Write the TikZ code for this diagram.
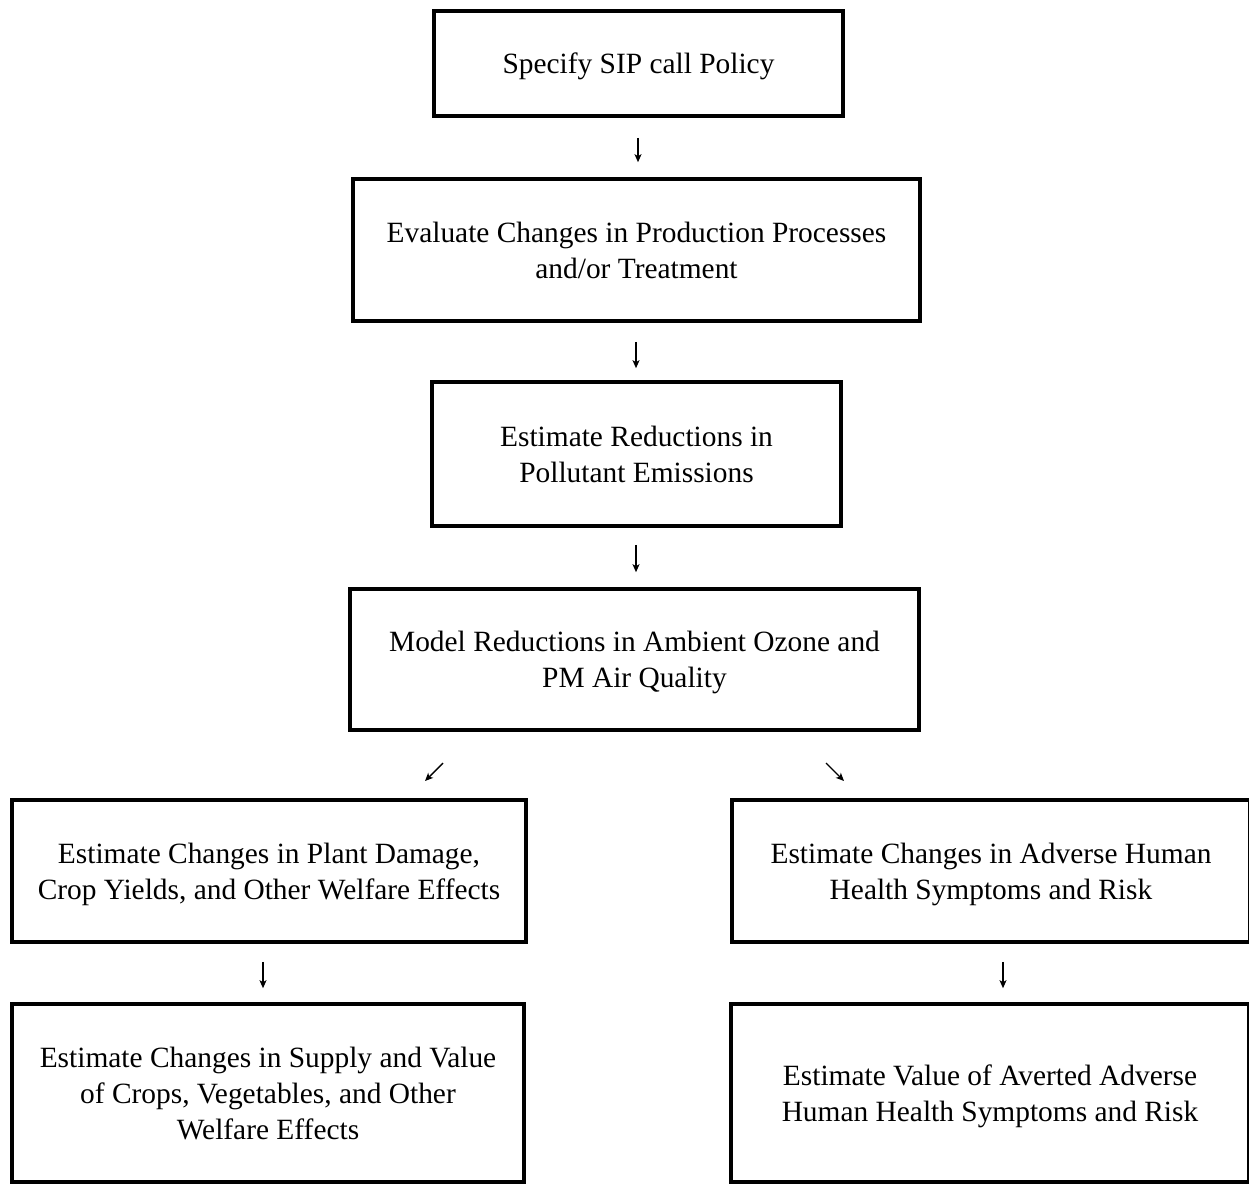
\documentclass[tikz,border=0pt]{standalone}
\usepackage{fontspec}
\setmainfont{Liberation Serif}
\usetikzlibrary{arrows.meta}
\begin{document}
\begin{tikzpicture}[x=1pt,y=-1pt,
  box/.style={draw=black,line width=3.6pt,inner sep=0pt,align=center,text depth=0pt,
    font=\fontsize{29.4}{36}\selectfont},
  arr/.style={line width=1.4pt,-{Stealth[length=8pt,width=7pt,inset=2pt]}}]
\useasboundingbox (0,0) rectangle (1249,1183);
\node[box,minimum width=409,minimum height=105] (s) at (638.5,63.5) {Specify SIP call Policy};
\node[box,minimum width=567,minimum height=142] (e) at (636.5,250) {Evaluate Changes in Production Processes\\and/or Treatment};
\node[box,minimum width=409,minimum height=144] (r) at (636.5,454) {Estimate Reductions in\\Pollutant Emissions};
\node[box,minimum width=569,minimum height=141] (m) at (634.5,659.5) {Model Reductions in Ambient Ozone and\\PM Air Quality};
\node[box,minimum width=514,minimum height=142] (pl) at (269,871) {Estimate Changes in Plant Damage,\\Crop Yields, and Other Welfare Effects};
\node[box,minimum width=518,minimum height=142] (hh) at (991,871) {Estimate Changes in Adverse Human\\Health Symptoms and Risk};
\node[box,minimum width=512,minimum height=178] (sv) at (268,1093) {Estimate Changes in Supply and Value\\of Crops, Vegetables, and Other\\Welfare Effects};
\node[box,minimum width=518,minimum height=178] (hv) at (990,1093) {Estimate Value of Averted Adverse\\Human Health Symptoms and Risk};
\coordinate (dl1) at (443,763);
\coordinate (dl2) at (425,781);
\coordinate (dr1) at (826,763);
\coordinate (dr2) at (844,781);
\draw[arr,shorten <=20pt,shorten >=15pt] ([xshift=-0.5pt]s.south) -- ([xshift=1.5pt]e.north);
\draw[arr,shorten <=19pt,shorten >=12pt] ([xshift=-0.5pt]e.south) -- ([xshift=-0.5pt]r.north);
\draw[arr,shorten <=17pt,shorten >=15pt] ([xshift=-0.5pt]r.south) -- ([xshift=1.5pt]m.north);
\draw[arr] (dl1) -- (dl2);
\draw[arr] (dr1) -- (dr2);
\draw[arr,shorten <=18pt,shorten >=14pt] ([xshift=-6pt]pl.south) -- ([xshift=-5pt]sv.north);
\draw[arr,shorten <=18pt,shorten >=14pt] ([xshift=12pt]hh.south) -- ([xshift=13pt]hv.north);
\end{tikzpicture}
\end{document}
